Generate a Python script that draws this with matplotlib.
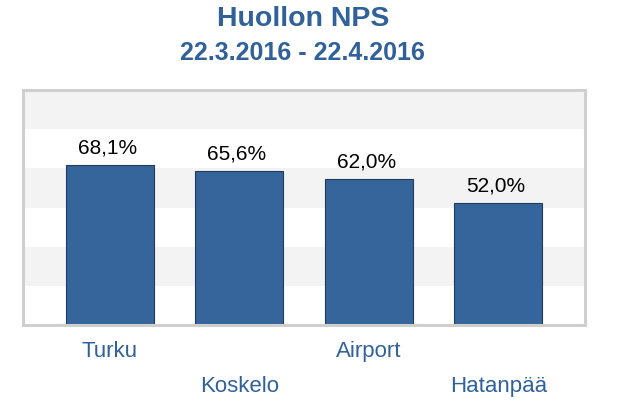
import matplotlib
matplotlib.use("Agg")
import matplotlib.pyplot as plt
import numpy as np

# data
locations = ["Turku", "Koskelo", "Airport", "Hatanpää"]
nps = [68.1, 65.6, 62.0, 52.0]
value_labels = ["68,1%", "65,6%", "62,0%", "52,0%"]
title = "Huollon NPS"
subtitle = "22.3.2016 - 22.4.2016"

blue = "#35659a"
text_blue = "#30619a"

plt.rcParams["font.family"] = ["Liberation Sans", "DejaVu Sans"]

fig = plt.figure(figsize=(6.4, 4.13), dpi=100)
W, H = 640, 413
ax = fig.add_axes([23 / W, 1 - 325 / H, (585 - 23) / W, (325 - 90) / H])

# alternating background bands
step = 100 / 6
for i in range(6):
    if i % 2 == 1:
        ax.axhspan(i * step, (i + 1) * step, color="#f3f3f3", zorder=0, lw=0)

x = np.arange(len(locations))
ax.bar(x, nps, width=0.68, color=blue, edgecolor="#1f3a5c", linewidth=0.8, zorder=2)

for xi, v, lab in zip(x, nps, value_labels):
    ax.text(xi - 0.02, v + 3.3, lab, ha="center", va="bottom", fontsize=15, color="black")

ax.set_xlim(-0.67, 3.67)
ax.set_ylim(0, 100)
ax.set_xticks([])
ax.set_yticks([])
for s in ax.spines.values():
    s.set_color("#cfcfcf")
    s.set_linewidth(2.2)

# staggered category labels under the axis
for i, (xi, name) in enumerate(zip(x, locations)):
    yoff = -11.3 if i % 2 == 0 else -26.3
    ax.text(xi, yoff, name, ha="center", va="center", fontsize=16, color=text_blue,
            clip_on=False)

fig.text(303 / W, 1 - 19 / H, title, ha="center", va="center", fontsize=20.5,
         fontweight="bold", color=text_blue)
fig.text(302 / W, 1 - 53 / H, subtitle, ha="center", va="center", fontsize=18,
         fontweight="bold", color=text_blue)

fig.savefig("out.png", dpi=100)
